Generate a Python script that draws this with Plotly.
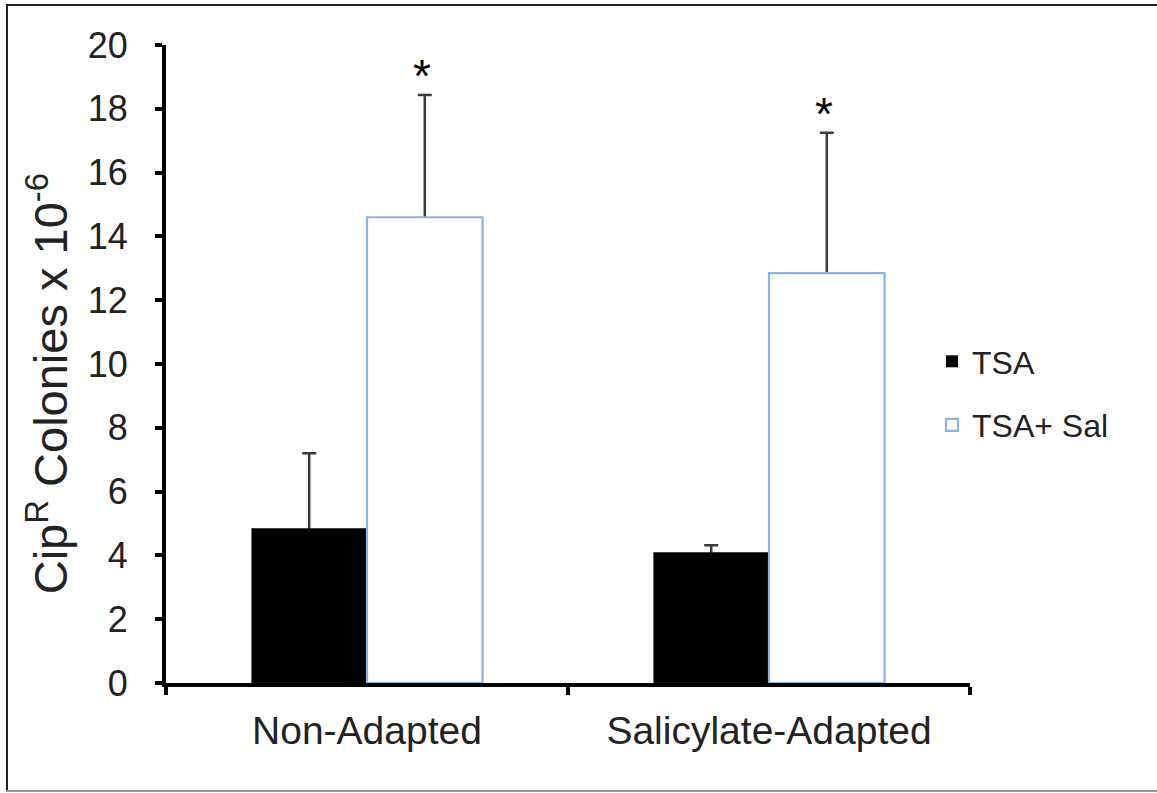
import plotly.graph_objects as go

categories = ["Non-Adapted", "Salicylate-Adapted"]
tsa = [4.85, 4.1]
tsa_err = [2.35, 0.22]
sal = [14.6, 12.85]
sal_err = [3.83, 4.4]
stars = ["*", "*"]
y_ticks = [0, 2, 4, 6, 8, 10, 12, 14, 16, 18, 20]

FONT = "Liberation Sans, Arial, sans-serif"
BLUE = "#8DB3E2"
ERR = "#3a3a3a"

W, H = 1157, 793
L, R, T, B = 166, 187, 45, 110
BARGAP = 0.425

fig = go.Figure()

# error bars drawn first (from 0 upwards) so that the bars hide their lower part
for vals, errs, grp in ((tsa, tsa_err, "a"), (sal, sal_err, "b")):
    fig.add_trace(go.Bar(
        x=categories, y=vals, offsetgroup=grp, showlegend=False,
        hoverinfo="skip", marker=dict(color="rgba(0,0,0,0)", line=dict(width=0)),
        error_y=dict(type="data", symmetric=False, array=errs, arrayminus=vals,
                     color=ERR, thickness=2.5, width=7),
    ))

fig.add_trace(go.Bar(
    x=categories, y=tsa, name="TSA", offsetgroup="a", legendgroup="a",
    marker=dict(color="black", line=dict(width=0)),
))
fig.add_trace(go.Bar(
    x=categories, y=sal, name="TSA+ Sal", offsetgroup="b", legendgroup="b",
    marker=dict(color="white", line=dict(color=BLUE, width=2.2)),
))

# half of a single bar's width in pixels (derived from layout)
plot_w = W - L - R
half_bar = plot_w / len(categories) * (1 - BARGAP) / 4

annotations = [
    dict(x=c, y=s + e, xref="x", yref="y", text=st, showarrow=False,
         xshift=half_bar - 3, yshift=19, yanchor="middle",
         font=dict(family=FONT, size=46, color="black"))
    for c, s, e, st in zip(categories, sal, sal_err, stars)
]

def px_x(p):
    return (p - L) / (W - L - R)

def px_y(p):
    return (H - B - p) / (H - T - B)

shapes = [
    dict(type="line", xref="paper", yref="paper", x0=px_x(7), x1=px_x(7),
         y0=px_y(4), y1=px_y(791), line=dict(color="#222", width=2)),
    dict(type="line", xref="paper", yref="paper", x0=px_x(6), x1=px_x(1160),
         y0=px_y(5), y1=px_y(5), line=dict(color="#222", width=2)),
    dict(type="line", xref="paper", yref="paper", x0=px_x(6), x1=px_x(1160),
         y0=px_y(791), y1=px_y(791), line=dict(color="#999", width=2)),
]

fig.update_layout(
    width=W, height=H,
    margin=dict(l=L, r=R, t=T, b=B, autoexpand=False),
    paper_bgcolor="white", plot_bgcolor="white",
    barmode="group", bargap=BARGAP, bargroupgap=0,
    font=dict(family=FONT, color="#222"),
    showlegend=True,
    legend=dict(x=px_x(932), y=px_y(334), xanchor="left", yanchor="top",
                font=dict(family=FONT, size=32, color="#222"),
                traceorder="grouped", tracegroupgap=19,
                bgcolor="rgba(0,0,0,0)", itemwidth=30),
    shapes=shapes,
    annotations=annotations,
    xaxis=dict(
        type="category", showline=True, linecolor="black", linewidth=4,
        ticks="outside", tickson="boundaries", ticklen=8, tickwidth=4,
        tickcolor="black", tickfont=dict(family=FONT, size=39, color="#222"),
        showgrid=False, zeroline=False, ticklabelstandoff=10,
    ),
    yaxis=dict(
        range=[0, 20], tickvals=y_ticks, showline=True, linecolor="black",
        linewidth=4, ticks="outside", ticklen=7, tickwidth=4, tickcolor="black",
        tickfont=dict(family=FONT, size=36, color="#222"), showgrid=False,
        zeroline=False, ticklabelstandoff=20,
        title=dict(text="Cip<sup>R</sup> Colonies x 10<sup>-6</sup>&nbsp;&nbsp;&nbsp;",
                   font=dict(family=FONT, size=47, color="#222"), standoff=6),
    ),
)

fig.write_html("out.html")
